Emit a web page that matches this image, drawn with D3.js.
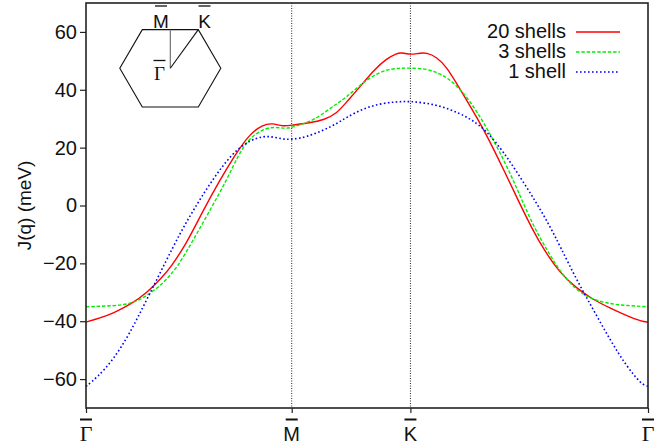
<!DOCTYPE html>
<html>
<head>
  <meta charset="utf-8">
  <script src="https://d3js.org/d3.v7.min.js"></script>
  <title>J(q) along the high symmetry path</title>
  <style>
    body { margin: 0; background: #fff; }
    text { font-family: "Liberation Sans", Helvetica, Arial, sans-serif; }
    .serif { font-family: "Liberation Serif", "Times New Roman", serif; }
  </style>
</head>
<body>
  <div class="chart"></div>
  <script type="text/javascript">
    // path coordinate: Gamma = 0, M = 1, K = 1.577, Gamma = 2.732
    var pathTicks = [0, 1.000, 1.577, 2.732];
    var pathLabels = ['Γ', 'M', 'K', 'Γ'];
    var yTicks = [-60, -40, -20, 0, 20, 40, 60];

    var shells20 = [
      [0, -40.3], [0.068, -38.9], [0.133, -37.2], [0.214, -34.3], [0.295, -30.3],
      [0.376, -24.3], [0.408, -21.7], [0.490, -13.0], [0.570, -1.6], [0.651, 8.8],
      [0.724, 17.4], [0.797, 24.9], [0.862, 27.9], [0.903, 28.5], [0.959, 27.3],
      [1.000, 27.8], [1.089, 28.6], [1.154, 29.5], [1.219, 31.8], [1.267, 35.8],
      [1.332, 41.0], [1.397, 46.7], [1.462, 50.8], [1.510, 52.6], [1.535, 52.9],
      [1.577, 52.1], [1.614, 52.6], [1.656, 52.9], [1.705, 51.3], [1.753, 47.9],
      [1.802, 42.1], [1.851, 36.4], [1.899, 30.5], [1.948, 24.3], [2.029, 12.6],
      [2.110, 0.4], [2.167, -7.8], [2.223, -15.0], [2.304, -23.4], [2.385, -28.6],
      [2.466, -32.6], [2.547, -35.4], [2.628, -38.1], [2.701, -40.1], [2.732, -40.3]
    ];

    var shells3 = [
      [0, -35.0], [0.133, -34.7], [0.214, -34.1], [0.295, -31.4], [0.376, -26.8],
      [0.441, -21.7], [0.522, -11.9], [0.603, -1.6], [0.684, 8.8], [0.740, 17.4],
      [0.797, 23.7], [0.878, 27.0], [0.927, 27.0], [0.976, 26.6], [1.000, 27.0],
      [1.089, 28.9], [1.154, 31.8], [1.219, 35.2], [1.267, 37.5], [1.332, 41.6],
      [1.397, 45.0], [1.462, 47.0], [1.526, 47.5], [1.577, 47.5], [1.656, 47.3],
      [1.721, 45.6], [1.786, 42.7], [1.851, 37.5], [1.899, 32.6], [1.964, 24.9],
      [2.045, 13.8], [2.110, 3.4], [2.174, -7.0], [2.240, -15.3], [2.304, -22.8],
      [2.385, -29.5], [2.466, -32.6], [2.547, -34.0], [2.628, -34.6], [2.732, -35.0]
    ];

    var shells1 = [
      [0, -62.5], [0.052, -59.6], [0.133, -53.3], [0.214, -44.1], [0.295, -32.6],
      [0.384, -19.9], [0.457, -9.6], [0.522, -1.6], [0.603, 7.7], [0.708, 18.0],
      [0.797, 22.6], [0.862, 24.0], [0.911, 23.7], [0.959, 22.9], [1.000, 22.8],
      [1.073, 23.7], [1.154, 26.0], [1.219, 28.3], [1.267, 30.5], [1.348, 33.5],
      [1.429, 35.2], [1.510, 35.9], [1.577, 36.0], [1.656, 35.4], [1.737, 34.1],
      [1.818, 31.8], [1.876, 29.6], [1.945, 26.0], [2.029, 18.6], [2.110, 9.9],
      [2.191, 0.8], [2.256, -7.3], [2.304, -14.0], [2.385, -25.7], [2.466, -36.0],
      [2.547, -46.4], [2.628, -55.6], [2.701, -61.9], [2.732, -62.5]
    ];

    var seriesNames = ['20 shells', '3 shells', '1 shell'];
    var seriesColors = ['#ff0000', '#00ee00', '#0000ff'];
    var seriesDash = [null, '3.5,1.8', '1.6,2.4'];
    var seriesData = [shells20, shells3, shells1];

    var width = 665, height = 445;
    var margin = {top: 3, right: 17, bottom: 37, left: 86};

    var svg = d3.select('.chart').append('svg')
      .attr('width', width)
      .attr('height', height);

    var x = d3.scaleLinear().domain([0, 2.732])
      .range([margin.left, width - margin.right]);
    var y = d3.scaleLinear().domain([-70, 70])
      .range([height - margin.bottom, margin.top]);

    // dotted guides at M and K
    svg.selectAll('line.guide')
      .data(pathTicks.slice(1, 3))
      .enter().append('line')
      .attr('class', 'guide')
      .attr('x1', function(d) { return x(d); })
      .attr('x2', function(d) { return x(d); })
      .attr('y1', y(70))
      .attr('y2', y(-70))
      .attr('stroke', '#222')
      .attr('stroke-width', 1)
      .attr('stroke-dasharray', '1,1.5');

    var line = d3.line()
      .x(function(d) { return x(d[0]); })
      .y(function(d) { return y(d[1]); })
      .curve(d3.curveBasis);

    seriesData.forEach(function(s, i) {
      svg.append('path')
        .datum(s)
        .attr('d', line)
        .attr('fill', 'none')
        .attr('stroke', seriesColors[i])
        .attr('stroke-width', i === 2 ? 1.6 : 1.4)
        .attr('stroke-dasharray', seriesDash[i]);
    });

    // axes
    var yAxis = svg.append('g')
      .attr('transform', 'translate(' + margin.left + ',0)')
      .call(d3.axisLeft(y).tickValues(yTicks).tickSize(6).tickPadding(3));
    yAxis.select('.domain').remove();
    yAxis.selectAll('text')
      .style('font-size', '20px')
      .style('font-family', '"Liberation Sans", Helvetica, Arial, sans-serif')
      .attr('fill', '#111');
    yAxis.selectAll('line').attr('stroke', '#222').attr('stroke-width', 1.2);

    var xAxis = svg.append('g')
      .attr('transform', 'translate(0,' + (height - margin.bottom) + ')')
      .call(d3.axisBottom(x).tickValues(pathTicks).tickSize(5).tickFormat(function() { return ''; }));
    xAxis.select('.domain').remove();
    xAxis.selectAll('line').attr('stroke', '#222').attr('stroke-width', 1.2);

    // frame
    svg.append('rect')
      .attr('x', margin.left)
      .attr('y', margin.top)
      .attr('width', width - margin.left - margin.right)
      .attr('height', height - margin.top - margin.bottom)
      .attr('fill', 'none')
      .attr('stroke', '#222')
      .attr('stroke-width', 1.6);

    // k-point labels with overbars
    var kl = svg.append('g');
    pathTicks.forEach(function(t, i) {
      kl.append('text')
        .attr('class', pathLabels[i] === 'Γ' ? 'serif' : null)
        .attr('x', x(t))
        .attr('y', 441)
        .attr('text-anchor', 'middle')
        .style('font-size', pathLabels[i] === 'Γ' ? '22px' : '20px')
        .attr('fill', '#111')
        .text(pathLabels[i]);
      kl.append('line')
        .attr('x1', x(t) - 6).attr('x2', x(t) + 6)
        .attr('y1', 419.5).attr('y2', 419.5)
        .attr('stroke', '#111').attr('stroke-width', 2);
    });

    // y label
    svg.append('text')
      .attr('transform', 'translate(31,' + y(0) + ') rotate(-90)')
      .attr('text-anchor', 'middle')
      .style('font-size', '19px')
      .attr('fill', '#111')
      .text('J(q) (meV)');

    // legend
    var legend = svg.append('g');
    seriesNames.forEach(function(name, i) {
      var ly = 32 + i * 20;
      legend.append('text')
        .attr('x', 566)
        .attr('y', ly + 6)
        .attr('text-anchor', 'end')
        .style('font-size', '20px')
        .attr('fill', '#111')
        .text(name);
      legend.append('line')
        .attr('x1', 576).attr('x2', 620)
        .attr('y1', ly).attr('y2', ly)
        .attr('stroke', seriesColors[i])
        .attr('stroke-width', i === 2 ? 1.6 : 1.4)
        .attr('stroke-dasharray', seriesDash[i]);
    });

    // Brillouin zone inset
    var cx = 170.3, cy = 68.3, hw = 50.5, tw = 28, hh = 38.7;
    var hex = [[cx - tw, cy - hh], [cx + tw, cy - hh], [cx + hw, cy], [cx + tw, cy + hh],
               [cx - tw, cy + hh], [cx - hw, cy]];
    var inset = svg.append('g');
    inset.append('path')
      .attr('d', d3.line()(hex) + 'Z')
      .attr('fill', 'none')
      .attr('stroke', '#111')
      .attr('stroke-width', 1.1);
    inset.append('line')
      .attr('x1', cx).attr('y1', cy).attr('x2', cx).attr('y2', cy - hh)
      .attr('stroke', '#666').attr('stroke-width', 1.1);
    inset.append('line')
      .attr('x1', cx).attr('y1', cy).attr('x2', cx + tw).attr('y2', cy - hh)
      .attr('stroke', '#111').attr('stroke-width', 1.1);

    var insetLabels = [
      {t: 'M', x: 161, y: 27.5, serif: false},
      {t: 'K', x: 204.5, y: 27.5, serif: false},
      {t: 'Γ', x: 159.5, y: 80, serif: true}
    ];
    insetLabels.forEach(function(d) {
      inset.append('text')
        .attr('class', d.serif ? 'serif' : null)
        .attr('x', d.x)
        .attr('y', d.y)
        .attr('text-anchor', 'middle')
        .style('font-size', '19px')
        .attr('fill', '#111')
        .text(d.t);
      var top = d.serif ? d.y - 19.5 : d.y - 21.5;
      inset.append('line')
        .attr('x1', d.x - 6).attr('x2', d.x + 6)
        .attr('y1', top).attr('y2', top)
        .attr('stroke', '#111').attr('stroke-width', 1.3);
    });
  </script>
</body>
</html>
